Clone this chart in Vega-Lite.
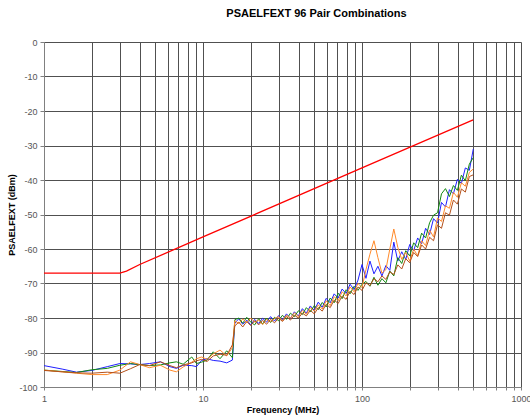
{
  "$schema": "https://vega.github.io/schema/vega-lite/v6.json",
  "width": 477,
  "height": 345,
  "autosize": "none",
  "padding": {"left": 44, "top": 42, "right": 9, "bottom": 32},
  "background": "white",
  "title": {"text": "PSAELFEXT 96 Pair Combinations", "font": "Liberation Sans", "fontSize": 11, "fontWeight": "bold", "color": "black", "dx": 34, "offset": 19},
  "config": {
    "view": {"stroke": null},
    "axis": {"labelFont": "Liberation Sans", "titleFont": "Liberation Sans", "labelFontSize": 9, "labelColor": "#555555", "titleFontSize": 9, "titleFontWeight": "bold", "titleColor": "black", "gridColor": "#505050", "gridOpacity": 1, "gridWidth": 1, "domainColor": "#808080", "tickColor": "#808080"}
  },
  "datasets": {
    "noise": [
      {"s":"blue","f":1,"v":-93.8},{"s":"blue","f":1.3,"v":-94.8},{"s":"blue","f":1.6,"v":-95.7},{"s":"blue","f":2.0,"v":-95.2},{"s":"blue","f":2.5,"v":-94.1},{"s":"blue","f":3.0,"v":-93.2},{"s":"blue","f":3.5,"v":-93.3},{"s":"blue","f":4.0,"v":-93.5},{"s":"blue","f":4.6,"v":-93.2},{"s":"blue","f":5.4,"v":-92.7},{"s":"blue","f":6.2,"v":-94.1},{"s":"blue","f":6.8,"v":-94.6},{"s":"blue","f":7.5,"v":-93.7},{"s":"blue","f":8.5,"v":-93.8},{"s":"blue","f":9.1,"v":-94.1},{"s":"blue","f":9.8,"v":-92.3},{"s":"blue","f":10.6,"v":-91.8},{"s":"blue","f":11.6,"v":-92.3},{"s":"blue","f":12.8,"v":-92.5},{"s":"blue","f":14.1,"v":-93.0},{"s":"blue","f":15.3,"v":-92.2},
      {"s":"blue","f":15.85,"v":-81.5},{"s":"blue","f":16.79,"v":-80.2},{"s":"blue","f":17.78,"v":-81.8},{"s":"blue","f":18.84,"v":-80.6},{"s":"blue","f":19.95,"v":-82.0},{"s":"blue","f":21.13,"v":-80.4},{"s":"blue","f":22.39,"v":-81.6},{"s":"blue","f":23.71,"v":-80.1},{"s":"blue","f":25.12,"v":-81.2},{"s":"blue","f":26.61,"v":-79.6},{"s":"blue","f":28.18,"v":-80.9},{"s":"blue","f":29.85,"v":-79.3},{"s":"blue","f":31.62,"v":-80.6},{"s":"blue","f":33.5,"v":-78.8},{"s":"blue","f":35.48,"v":-80.1},{"s":"blue","f":37.58,"v":-78.2},{"s":"blue","f":39.81,"v":-79.4},{"s":"blue","f":42.17,"v":-77.3},{"s":"blue","f":44.67,"v":-78.6},{"s":"blue","f":47.32,"v":-76.5},{"s":"blue","f":50.12,"v":-77.8},{"s":"blue","f":53.09,"v":-75.4},{"s":"blue","f":56.23,"v":-76.9},{"s":"blue","f":59.57,"v":-74.3},{"s":"blue","f":63.1,"v":-75.6},{"s":"blue","f":66.83,"v":-73.0},{"s":"blue","f":70.79,"v":-74.2},{"s":"blue","f":74.99,"v":-71.6},{"s":"blue","f":79.43,"v":-72.9},{"s":"blue","f":84.14,"v":-70.2},{"s":"blue","f":89.13,"v":-71.8},{"s":"blue","f":94.41,"v":-69.0},{"s":"blue","f":100,"v":-64.5},{"s":"blue","f":105.9,"v":-68.5},{"s":"blue","f":112.2,"v":-63.5},{"s":"blue","f":118.9,"v":-67.2},{"s":"blue","f":125.9,"v":-65.0},{"s":"blue","f":133.4,"v":-67.8},{"s":"blue","f":141.3,"v":-64.8},{"s":"blue","f":149.6,"v":-66.2},{"s":"blue","f":158.5,"v":-58.0},{"s":"blue","f":167.9,"v":-63.5},{"s":"blue","f":177.8,"v":-60.8},{"s":"blue","f":188.4,"v":-63.0},{"s":"blue","f":199.5,"v":-58.7},{"s":"blue","f":211.3,"v":-60.5},{"s":"blue","f":223.9,"v":-56.8},{"s":"blue","f":237.1,"v":-58.5},{"s":"blue","f":251.2,"v":-54.0},{"s":"blue","f":266.1,"v":-55.8},{"s":"blue","f":281.8,"v":-51.2},{"s":"blue","f":298.5,"v":-52.5},{"s":"blue","f":316.2,"v":-46.5},{"s":"blue","f":335,"v":-47.8},{"s":"blue","f":354.8,"v":-42.8},{"s":"blue","f":375.8,"v":-44.0},{"s":"blue","f":398.1,"v":-39.8},{"s":"blue","f":421.7,"v":-41.0},{"s":"blue","f":446.7,"v":-36.5},{"s":"blue","f":473.2,"v":-37.2},{"s":"blue","f":501.2,"v":-31.0},

      {"s":"green","f":1,"v":-95.1},{"s":"green","f":1.3,"v":-95.5},{"s":"green","f":1.6,"v":-95.8},{"s":"green","f":2.0,"v":-95.0},{"s":"green","f":2.5,"v":-94.6},{"s":"green","f":3.0,"v":-93.7},{"s":"green","f":3.5,"v":-93.2},{"s":"green","f":4.0,"v":-93.5},{"s":"green","f":4.6,"v":-93.8},{"s":"green","f":5.4,"v":-93.6},{"s":"green","f":6.2,"v":-93.0},{"s":"green","f":6.8,"v":-92.7},{"s":"green","f":7.5,"v":-93.4},{"s":"green","f":8.5,"v":-91.3},{"s":"green","f":9.1,"v":-93.2},{"s":"green","f":9.8,"v":-92.8},{"s":"green","f":10.6,"v":-92.2},{"s":"green","f":11.6,"v":-89.8},{"s":"green","f":12.8,"v":-91.8},{"s":"green","f":14.1,"v":-89.5},{"s":"green","f":15.3,"v":-91.5},
      {"s":"green","f":15.85,"v":-80.5},{"s":"green","f":16.79,"v":-80.0},{"s":"green","f":17.78,"v":-81.5},{"s":"green","f":18.84,"v":-79.8},{"s":"green","f":19.95,"v":-81.2},{"s":"green","f":21.13,"v":-82.0},{"s":"green","f":22.39,"v":-80.2},{"s":"green","f":23.71,"v":-81.8},{"s":"green","f":25.12,"v":-80.0},{"s":"green","f":26.61,"v":-81.3},{"s":"green","f":28.18,"v":-79.8},{"s":"green","f":29.85,"v":-80.8},{"s":"green","f":31.62,"v":-79.2},{"s":"green","f":33.5,"v":-80.4},{"s":"green","f":35.48,"v":-78.6},{"s":"green","f":37.58,"v":-79.6},{"s":"green","f":39.81,"v":-77.9},{"s":"green","f":42.17,"v":-79.0},{"s":"green","f":44.67,"v":-77.0},{"s":"green","f":47.32,"v":-78.2},{"s":"green","f":50.12,"v":-76.4},{"s":"green","f":53.09,"v":-77.6},{"s":"green","f":56.23,"v":-75.5},{"s":"green","f":59.57,"v":-76.8},{"s":"green","f":63.1,"v":-74.2},{"s":"green","f":66.83,"v":-75.6},{"s":"green","f":70.79,"v":-72.8},{"s":"green","f":74.99,"v":-74.4},{"s":"green","f":79.43,"v":-71.8},{"s":"green","f":84.14,"v":-73.0},{"s":"green","f":89.13,"v":-70.8},{"s":"green","f":94.41,"v":-72.0},{"s":"green","f":100,"v":-70.2},{"s":"green","f":105.9,"v":-69.4},{"s":"green","f":112.2,"v":-70.8},{"s":"green","f":118.9,"v":-68.2},{"s":"green","f":125.9,"v":-70.5},{"s":"green","f":133.4,"v":-68.6},{"s":"green","f":141.3,"v":-69.8},{"s":"green","f":149.6,"v":-66.4},{"s":"green","f":158.5,"v":-67.8},{"s":"green","f":167.9,"v":-62.5},{"s":"green","f":177.8,"v":-64.2},{"s":"green","f":188.4,"v":-60.5},{"s":"green","f":199.5,"v":-62.0},{"s":"green","f":211.3,"v":-58.2},{"s":"green","f":223.9,"v":-59.6},{"s":"green","f":237.1,"v":-55.4},{"s":"green","f":251.2,"v":-56.8},{"s":"green","f":266.1,"v":-52.4},{"s":"green","f":281.8,"v":-50.2},{"s":"green","f":298.5,"v":-49.5},{"s":"green","f":316.2,"v":-44.0},{"s":"green","f":335,"v":-42.5},{"s":"green","f":354.8,"v":-44.8},{"s":"green","f":375.8,"v":-41.6},{"s":"green","f":398.1,"v":-43.0},{"s":"green","f":421.7,"v":-38.6},{"s":"green","f":446.7,"v":-40.2},{"s":"green","f":473.2,"v":-35.4},{"s":"green","f":501.2,"v":-33.5},

      {"s":"orange","f":1,"v":-95.1},{"s":"orange","f":1.3,"v":-95.6},{"s":"orange","f":1.6,"v":-96.0},{"s":"orange","f":2.0,"v":-96.4},{"s":"orange","f":2.5,"v":-96.4},{"s":"orange","f":3.0,"v":-95.1},{"s":"orange","f":3.5,"v":-92.7},{"s":"orange","f":4.0,"v":-93.5},{"s":"orange","f":4.6,"v":-94.4},{"s":"orange","f":5.4,"v":-93.7},{"s":"orange","f":6.2,"v":-95.1},{"s":"orange","f":6.8,"v":-95.6},{"s":"orange","f":7.5,"v":-94.2},{"s":"orange","f":8.5,"v":-92.8},{"s":"orange","f":9.1,"v":-91.8},{"s":"orange","f":9.8,"v":-91.3},{"s":"orange","f":10.6,"v":-92.0},{"s":"orange","f":11.6,"v":-90.4},{"s":"orange","f":12.8,"v":-89.3},{"s":"orange","f":14.1,"v":-91.0},{"s":"orange","f":15.3,"v":-88.6},
      {"s":"orange","f":15.85,"v":-80.8},{"s":"orange","f":16.79,"v":-81.6},{"s":"orange","f":17.78,"v":-80.3},{"s":"orange","f":18.84,"v":-81.4},{"s":"orange","f":19.95,"v":-80.0},{"s":"orange","f":21.13,"v":-81.2},{"s":"orange","f":22.39,"v":-80.6},{"s":"orange","f":23.71,"v":-81.9},{"s":"orange","f":25.12,"v":-80.4},{"s":"orange","f":26.61,"v":-81.0},{"s":"orange","f":28.18,"v":-80.2},{"s":"orange","f":29.85,"v":-79.6},{"s":"orange","f":31.62,"v":-80.8},{"s":"orange","f":33.5,"v":-79.2},{"s":"orange","f":35.48,"v":-80.0},{"s":"orange","f":37.58,"v":-78.5},{"s":"orange","f":39.81,"v":-79.6},{"s":"orange","f":42.17,"v":-77.8},{"s":"orange","f":44.67,"v":-78.9},{"s":"orange","f":47.32,"v":-77.0},{"s":"orange","f":50.12,"v":-78.0},{"s":"orange","f":53.09,"v":-76.2},{"s":"orange","f":56.23,"v":-77.4},{"s":"orange","f":59.57,"v":-75.0},{"s":"orange","f":63.1,"v":-76.4},{"s":"orange","f":66.83,"v":-73.8},{"s":"orange","f":70.79,"v":-75.0},{"s":"orange","f":74.99,"v":-72.4},{"s":"orange","f":79.43,"v":-73.6},{"s":"orange","f":84.14,"v":-71.0},{"s":"orange","f":89.13,"v":-72.4},{"s":"orange","f":94.41,"v":-70.0},{"s":"orange","f":100,"v":-71.2},{"s":"orange","f":105.9,"v":-66.0},{"s":"orange","f":112.2,"v":-61.5},{"s":"orange","f":118.9,"v":-57.6},{"s":"orange","f":125.9,"v":-62.5},{"s":"orange","f":133.4,"v":-67.0},{"s":"orange","f":141.3,"v":-66.0},{"s":"orange","f":149.6,"v":-60.0},{"s":"orange","f":158.5,"v":-54.2},{"s":"orange","f":167.9,"v":-59.5},{"s":"orange","f":177.8,"v":-63.0},{"s":"orange","f":188.4,"v":-61.0},{"s":"orange","f":199.5,"v":-63.5},{"s":"orange","f":211.3,"v":-60.0},{"s":"orange","f":223.9,"v":-62.0},{"s":"orange","f":237.1,"v":-57.6},{"s":"orange","f":251.2,"v":-59.0},{"s":"orange","f":266.1,"v":-54.5},{"s":"orange","f":281.8,"v":-56.5},{"s":"orange","f":298.5,"v":-51.0},{"s":"orange","f":316.2,"v":-52.0},{"s":"orange","f":335,"v":-47.5},{"s":"orange","f":354.8,"v":-48.2},{"s":"orange","f":375.8,"v":-43.6},{"s":"orange","f":398.1,"v":-45.0},{"s":"orange","f":421.7,"v":-40.8},{"s":"orange","f":446.7,"v":-41.8},{"s":"orange","f":473.2,"v":-37.8},{"s":"orange","f":501.2,"v":-36.8},

      {"s":"brown","f":1,"v":-95.2},{"s":"brown","f":1.3,"v":-95.6},{"s":"brown","f":1.6,"v":-95.9},{"s":"brown","f":2.0,"v":-96.0},{"s":"brown","f":2.5,"v":-95.7},{"s":"brown","f":3.0,"v":-96.0},{"s":"brown","f":3.5,"v":-94.7},{"s":"brown","f":4.0,"v":-93.5},{"s":"brown","f":4.6,"v":-93.8},{"s":"brown","f":5.4,"v":-92.7},{"s":"brown","f":6.2,"v":-93.8},{"s":"brown","f":6.8,"v":-94.4},{"s":"brown","f":7.5,"v":-93.6},{"s":"brown","f":8.5,"v":-93.0},{"s":"brown","f":9.1,"v":-92.4},{"s":"brown","f":9.8,"v":-92.0},{"s":"brown","f":10.6,"v":-92.6},{"s":"brown","f":11.6,"v":-91.0},{"s":"brown","f":12.8,"v":-90.5},{"s":"brown","f":14.1,"v":-90.8},{"s":"brown","f":15.3,"v":-87.8},
      {"s":"brown","f":15.85,"v":-82.3},{"s":"brown","f":16.79,"v":-81.2},{"s":"brown","f":17.78,"v":-82.6},{"s":"brown","f":18.84,"v":-81.0},{"s":"brown","f":19.95,"v":-82.2},{"s":"brown","f":21.13,"v":-80.8},{"s":"brown","f":22.39,"v":-82.0},{"s":"brown","f":23.71,"v":-80.7},{"s":"brown","f":25.12,"v":-81.8},{"s":"brown","f":26.61,"v":-80.4},{"s":"brown","f":28.18,"v":-81.4},{"s":"brown","f":29.85,"v":-80.0},{"s":"brown","f":31.62,"v":-81.0},{"s":"brown","f":33.5,"v":-79.6},{"s":"brown","f":35.48,"v":-80.6},{"s":"brown","f":37.58,"v":-79.2},{"s":"brown","f":39.81,"v":-80.0},{"s":"brown","f":42.17,"v":-78.6},{"s":"brown","f":44.67,"v":-79.4},{"s":"brown","f":47.32,"v":-77.8},{"s":"brown","f":50.12,"v":-78.8},{"s":"brown","f":53.09,"v":-77.0},{"s":"brown","f":56.23,"v":-78.0},{"s":"brown","f":59.57,"v":-76.0},{"s":"brown","f":63.1,"v":-77.0},{"s":"brown","f":66.83,"v":-74.8},{"s":"brown","f":70.79,"v":-75.8},{"s":"brown","f":74.99,"v":-73.6},{"s":"brown","f":79.43,"v":-74.6},{"s":"brown","f":84.14,"v":-72.2},{"s":"brown","f":89.13,"v":-73.2},{"s":"brown","f":94.41,"v":-71.0},{"s":"brown","f":100,"v":-72.0},{"s":"brown","f":105.9,"v":-69.8},{"s":"brown","f":112.2,"v":-70.6},{"s":"brown","f":118.9,"v":-68.6},{"s":"brown","f":125.9,"v":-69.5},{"s":"brown","f":133.4,"v":-67.8},{"s":"brown","f":141.3,"v":-68.8},{"s":"brown","f":149.6,"v":-66.6},{"s":"brown","f":158.5,"v":-67.4},{"s":"brown","f":167.9,"v":-64.6},{"s":"brown","f":177.8,"v":-65.8},{"s":"brown","f":188.4,"v":-62.8},{"s":"brown","f":199.5,"v":-64.0},{"s":"brown","f":211.3,"v":-61.0},{"s":"brown","f":223.9,"v":-62.2},{"s":"brown","f":237.1,"v":-58.8},{"s":"brown","f":251.2,"v":-60.0},{"s":"brown","f":266.1,"v":-56.6},{"s":"brown","f":281.8,"v":-57.6},{"s":"brown","f":298.5,"v":-53.0},{"s":"brown","f":316.2,"v":-54.0},{"s":"brown","f":335,"v":-49.5},{"s":"brown","f":354.8,"v":-50.2},{"s":"brown","f":375.8,"v":-45.8},{"s":"brown","f":398.1,"v":-47.0},{"s":"brown","f":421.7,"v":-42.6},{"s":"brown","f":446.7,"v":-43.5},{"s":"brown","f":473.2,"v":-39.0},{"s":"brown","f":501.2,"v":-38.5}
    ],
    "limit": [
      {"f":1,"v":-67},{"f":3,"v":-67},{"f":3.3,"v":-66.4},{"f":4,"v":-64.5},{"f":10,"v":-56.5},{"f":100,"v":-36.5},{"f":500,"v":-22.6}
    ]
  },
  "encoding": {
    "x": {"field": "f", "type": "quantitative", "scale": {"type": "log", "domain": [1, 1000]},
      "axis": {"title": "Frequency (MHz)", "values": [1,2,3,4,5,6,7,8,9,10,20,30,40,50,60,70,80,90,100,200,300,400,500,600,700,800,900,1000],
        "labelExpr": "(datum.value == 1 || datum.value == 10 || datum.value == 100 || datum.value == 1000) ? toString(datum.value) : ''",
        "labelOverlap": false, "labelPadding": 4, "tickSize": 3, "titlePadding": 2, "labelBound": false, "labelFlush": false}},
    "y": {"field": "v", "type": "quantitative", "scale": {"domain": [-100, 0], "nice": false, "zero": false},
      "axis": {"title": "PSAELFEXT (dBm)", "values": [-100,-90,-80,-70,-60,-50,-40,-30,-20,-10,0], "tickCount": 30, "labelExpr": "toString(datum.value)", "labelOverlap": false, "tickSize": 4, "labelPadding": 3, "titlePadding": 2}}
  },
  "layer": [
    {
      "data": {"name": "noise"},
      "mark": {"type": "line", "strokeWidth": 1},
      "encoding": {
        "color": {"field": "s", "type": "nominal", "scale": {"domain": ["blue", "green", "orange", "brown"], "range": ["#2020ff", "#118811", "#ff8a2a", "#b4501a"]}, "legend": null}
      }
    },
    {
      "data": {"name": "limit"},
      "mark": {"type": "line", "color": "#ff0000", "strokeWidth": 1.3},
      "encoding": {}
    }
  ]
}
